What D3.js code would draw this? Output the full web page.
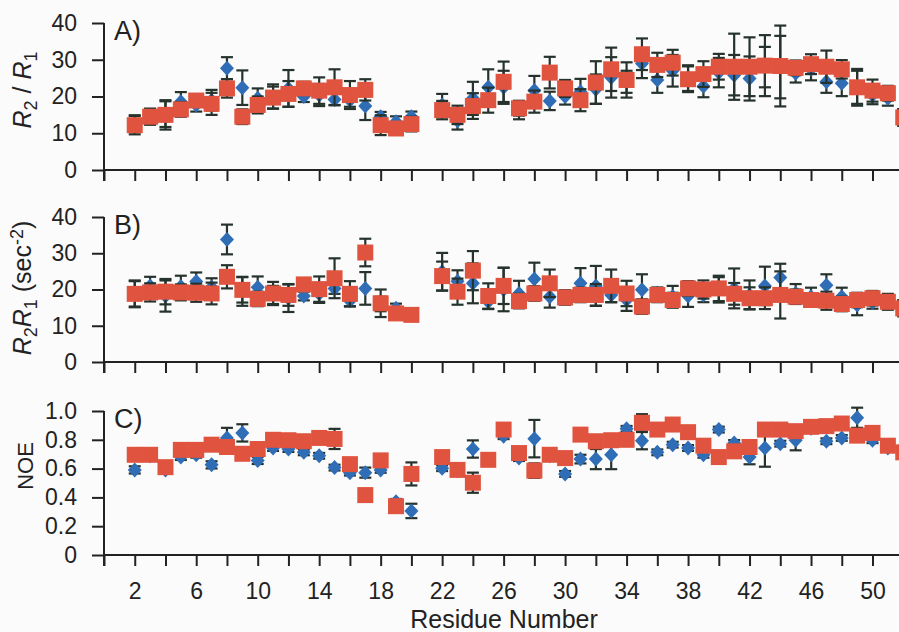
<!DOCTYPE html>
<html>
<head>
<meta charset="utf-8">
<script src="https://cdn.jsdelivr.net/npm/d3@7"></script>
<style>
  html, body { margin: 0; padding: 0; background: #fbfbfb; }
  svg { display: block; }
  text { font-family: "Liberation Sans", Arial, sans-serif; fill: #222; }
</style>
</head>
<body>
<div id="chart"></div>
<script>
// residues (21 is missing)
const residues = [2,3,4,5,6,7,8,9,10,11,12,13,14,15,16,17,18,19,20,
  22,23,24,25,26,27,28,29,30,31,32,33,34,35,36,37,38,39,40,41,42,43,44,45,46,47,48,49,50,51,52];

// A) R2/R1
const aRed = [12.2,14.5,15.0,16.5,18.9,18.0,22.2,14.5,17.7,19.7,20.7,22.2,21.6,22.5,20.4,21.8,12.2,11.3,12.5,
  16.3,15.0,17.4,19.0,24.0,16.8,18.6,26.5,22.2,19.0,23.8,27.4,24.5,31.5,28.6,29.2,24.7,26.1,28.1,28.1,28.1,28.4,28.3,27.8,28.8,28.1,27.4,22.5,21.6,20.9,14.3];
const aRedErr = [2.5,2.2,4,2,1.5,3,2.5,2,2.3,3,3.5,1.8,3.6,4.9,3.8,2.9,2.7,1.5,2,
  2.5,2.5,3.5,3.4,5.5,2,3,4.3,2.3,3,5.8,5.9,4.8,4.3,3.3,3.5,3.5,3.5,3.5,9,8,8.3,11,2,2.7,4.4,2.5,4.5,3,2,2.3];
const aBlue = [12.6,14.6,15.2,18.6,17.7,19.0,27.7,22.4,19.5,20.0,22.2,20.0,20.4,19.2,19.0,17.4,14.5,13.1,14.5,
  17.7,13.4,19.5,22.5,22.5,16.3,21.6,18.8,20.0,21.3,22.0,25.2,24.0,29.0,24.5,27.0,25.0,22.8,26.5,25.8,24.9,28.0,28.0,26.3,27.4,24.0,23.6,22.5,20.4,19.5,14.5];
const aBlueErr = [2.3,2,3.5,2.6,1.8,2.8,3,4.7,2.7,3.3,5,1.5,3,1.5,1.8,3.8,1.3,1.5,1.4,
  3,2.4,4.5,4.9,4.5,2.5,4,2.5,2.2,3.5,4,5.5,3,4,3.5,4.3,3.5,3,4,5.5,6,5.5,8.5,2.5,3,3,3.5,5,2.5,2,2];

// B) R2R1
const bRed = [18.8,19.2,19.4,19.2,19.1,18.9,23.5,19.9,17.4,18.9,18.5,21.4,20.1,23.1,18.8,30.2,16.2,13.4,13.0,
  23.7,19.4,25.2,18.2,21.0,16.8,18.9,21.7,17.8,18.5,18.5,21.0,18.9,15.3,18.5,17.1,20.3,20.0,20.3,18.8,17.6,17.6,18.5,18.0,17.1,16.9,16.0,17.1,17.6,16.6,14.8];
const bRedErr = [3.7,2.5,3.5,2.2,2.5,3,3.2,3.5,2,3.2,3,1.2,3.5,5.5,3.5,3.8,3.8,1.5,1.5,
  4,3.6,5.4,3.5,5,2,2,3.8,1.5,2,3,4.5,3.5,2,2,2,2,2.5,3.5,3,3,3,6.5,2,1.5,2.5,2,2,2,2.2,2.2];
const bBlue = [18.8,21.0,18.2,20.8,22.2,20.6,33.8,19.5,20.6,18.5,17.6,18.2,18.8,20.3,16.9,20.3,16.0,14.8,13.0,
  24.9,22.3,21.7,16.6,20.0,18.9,22.9,18.0,17.8,21.7,21.0,18.5,17.1,19.9,19.0,18.0,18.2,18.5,19.9,20.3,18.5,21.0,23.3,19.0,18.0,21.2,18.0,15.7,16.5,16.6,15.0];
const bBlueErr = [3.5,2.5,4.3,3,2.5,2.5,4.1,4,3,2.5,3.8,1.2,2.5,1.5,1.5,4.5,2,1.3,1.5,
  5.2,3,5.5,2,6,3.5,4.5,3,2,4.2,5.5,2,3,4.3,1.5,3,3,2,3.5,5.5,4,5.3,3.8,2.5,2.5,3,2.5,2.8,1.8,1.5,2];

// C) NOE
const cRed = [.696,.696,.61,.73,.73,.766,.75,.703,.736,.80,.797,.79,.813,.806,.631,.416,.657,.339,.563,
  .68,.591,.502,.661,.871,.708,.586,.696,.673,.836,.79,.797,.80,.918,.871,.906,.853,.759,.68,.72,.75,.871,.871,.86,.89,.895,.913,.829,.848,.759,.713];
const cRedErr = [.02,.02,.02,.02,.02,.02,.02,.02,.02,.02,.02,.02,.02,.07,.03,.03,.03,.03,.08,
  .04,.02,.07,.02,.02,.03,.05,.03,.02,.02,.04,.04,.02,.06,.02,.02,.02,.02,.02,.02,.03,.02,.02,.02,.02,.02,.02,.02,.02,.02,.02];
const cBlue = [.591,.69,.59,.68,.696,.626,.813,.848,.657,.743,.736,.713,.689,.607,.572,.572,.591,.369,.306,
  .603,.585,.736,.66,.825,.673,.808,.69,.563,.666,.666,.696,.876,.794,.713,.766,.743,.696,.871,.778,.68,.743,.773,.797,.88,.79,.813,.953,.797,.743,.71];
const cBlueErr = [.025,.02,.02,.02,.02,.025,.07,.06,.025,.02,.02,.02,.02,.02,.02,.035,.02,.02,.05,
  .02,.02,.06,.02,.02,.02,.13,.02,.02,.03,.07,.1,.02,.06,.02,.02,.02,.02,.02,.02,.05,.13,.02,.07,.02,.02,.02,.07,.02,.02,.02];

const aTicks = [0, 10, 20, 30, 40];
const bTicks = [0, 10, 20, 30, 40];
const cTicks = [0, 0.2, 0.4, 0.6, 0.8, 1.0];
const xTickLabels = [2, 6, 10, 14, 18, 22, 26, 30, 34, 38, 42, 46, 50];

// =====================================
// LAYOUT
// =====================================

const width = 899;
const height = 632;
const left = 104;

const blue = "#2f6db6";
const red = "#e0533f";
const errColor = "#25332c";

const svg = d3.select("#chart")
  .append("svg")
  .attr("width", width)
  .attr("height", height);

const x = d3.scaleLinear()
  .domain([0, 52])
  .range([left, left + 52 * 15.37]);

const panels = [
  { tag: "A)", top: 23, bottom: 170, max: 40, ticks: aTicks, fmt: d3.format("d"),
    red: aRed, redErr: aRedErr, blue: aBlue, blueErr: aBlueErr, labelY: 90 },
  { tag: "B)", top: 217, bottom: 362, max: 40, ticks: bTicks, fmt: d3.format("d"),
    red: bRed, redErr: bRedErr, blue: bBlue, blueErr: bBlueErr, labelY: 288 },
  { tag: "C)", top: 411, bottom: 555, max: 1, ticks: cTicks, fmt: d => d === 0 ? "0" : d3.format(".1f")(d),
    red: cRed, redErr: cRedErr, blue: cBlue, blueErr: cBlueErr, labelY: 466 }
];

// rotated square, slightly taller than wide
const diamondPath = "M0,-7.5L7,0L0,7.5L-7,0Z";

panels.forEach((p, pi) => {

  const y = d3.scaleLinear()
    .domain([0, p.max])
    .range([p.bottom, p.top]);

  const g = svg.append("g");

  // y axis
  const yAxis = g.append("g")
    .attr("transform", `translate(${left},0)`)
    .call(d3.axisLeft(y).tickValues(p.ticks).tickFormat(p.fmt).tickSize(12).tickPadding(15));

  yAxis.select(".domain").remove();
  yAxis.selectAll(".tick line").attr("stroke", "#222").attr("stroke-width", 2);
  yAxis.selectAll("text").style("font-size", "23px").style("fill", "#222");

  g.append("line")
    .attr("x1", left).attr("x2", left)
    .attr("y1", p.top).attr("y2", p.bottom + 11)
    .attr("stroke", "#222").attr("stroke-width", 2);

  // x axis
  const xAxis = g.append("g")
    .attr("transform", `translate(0,${p.bottom})`)
    .call(d3.axisBottom(x).tickValues(d3.range(0, 53, 2)).tickSize(11)
      .tickFormat(d => (pi === 2 && xTickLabels.includes(d)) ? d : ""));

  xAxis.select(".domain").remove();
  xAxis.selectAll(".tick line").attr("stroke", "#222").attr("stroke-width", 2);
  xAxis.selectAll("text")
    .style("font-family", "'Liberation Sans Narrow', 'Arial Narrow', 'Liberation Sans', sans-serif")
    .style("font-size", "23px")
    .style("fill", "#222")
    .attr("dy", "1.3em");

  g.append("line")
    .attr("x1", left).attr("x2", width)
    .attr("y1", p.bottom).attr("y2", p.bottom)
    .attr("stroke", "#222").attr("stroke-width", 2);

  // panel tag
  g.append("text")
    .attr("x", 114)
    .attr("y", p.top + 17)
    .style("font-size", "27px")
    .text(p.tag);

  // error bars and markers
  const series = [
    { vals: p.blue, errs: p.blueErr, kind: "blue" },
    { vals: p.red, errs: p.redErr, kind: "red" }
  ];

  series.forEach(s => {

    const pts = residues.map((r, i) => ({ r, v: s.vals[i], e: s.errs[i] }));

    const eb = g.append("g").selectAll("g")
      .data(pts)
      .enter()
      .append("g")
      .attr("stroke", errColor)
      .attr("stroke-width", 2.2);

    eb.append("line")
      .attr("x1", d => x(d.r)).attr("x2", d => x(d.r))
      .attr("y1", d => y(d.v + d.e)).attr("y2", d => y(d.v - d.e));

    eb.append("line")
      .attr("x1", d => x(d.r) - 6).attr("x2", d => x(d.r) + 6)
      .attr("y1", d => y(d.v + d.e)).attr("y2", d => y(d.v + d.e));

    eb.append("line")
      .attr("x1", d => x(d.r) - 6).attr("x2", d => x(d.r) + 6)
      .attr("y1", d => y(d.v - d.e)).attr("y2", d => y(d.v - d.e));

    if (s.kind === "blue") {
      g.append("g").selectAll("path")
        .data(pts)
        .enter()
        .append("path")
        .attr("d", diamondPath)
        .attr("transform", d => `translate(${x(d.r)},${y(d.v)})`)
        .attr("fill", blue);
    } else {
      g.append("g").selectAll("rect")
        .data(pts)
        .enter()
        .append("rect")
        .attr("x", d => x(d.r) - 8)
        .attr("y", d => y(d.v) - 8)
        .attr("width", 16)
        .attr("height", 16)
        .attr("fill", red);
    }
  });
});

// =====================================
// AXIS TITLES
// =====================================

const yTitle = (xc, yc, build) => {
  const t = svg.append("text")
    .attr("transform", `translate(${xc},${yc}) rotate(-90)`)
    .attr("text-anchor", "middle")
    .style("font-size", "25px");
  build(t);
};

yTitle(31, panels[0].labelY, t => {
  t.append("tspan").style("font-style", "italic").text("R");
  t.append("tspan").attr("dy", 6).style("font-size", "18px").text("2");
  t.append("tspan").attr("dy", -6).text(" / ");
  t.append("tspan").style("font-style", "italic").text("R");
  t.append("tspan").attr("dy", 6).style("font-size", "18px").text("1");
});

yTitle(31, panels[1].labelY, t => {
  t.append("tspan").style("font-style", "italic").text("R");
  t.append("tspan").attr("dy", 6).style("font-size", "18px").text("2");
  t.append("tspan").attr("dy", -6).style("font-style", "italic").text("R");
  t.append("tspan").attr("dy", 6).style("font-size", "18px").text("1");
  t.append("tspan").attr("dy", -6).text(" (sec");
  t.append("tspan").attr("dy", -8).style("font-size", "18px").text("-2");
  t.append("tspan").attr("dy", 8).text(")");
});

yTitle(33, panels[2].labelY, t => {
  t.style("font-size", "22px").text("NOE");
});

svg.append("text")
  .attr("x", 504)
  .attr("y", 628)
  .attr("text-anchor", "middle")
  .style("font-size", "25px")
  .text("Residue Number");
</script>
</body>
</html>
